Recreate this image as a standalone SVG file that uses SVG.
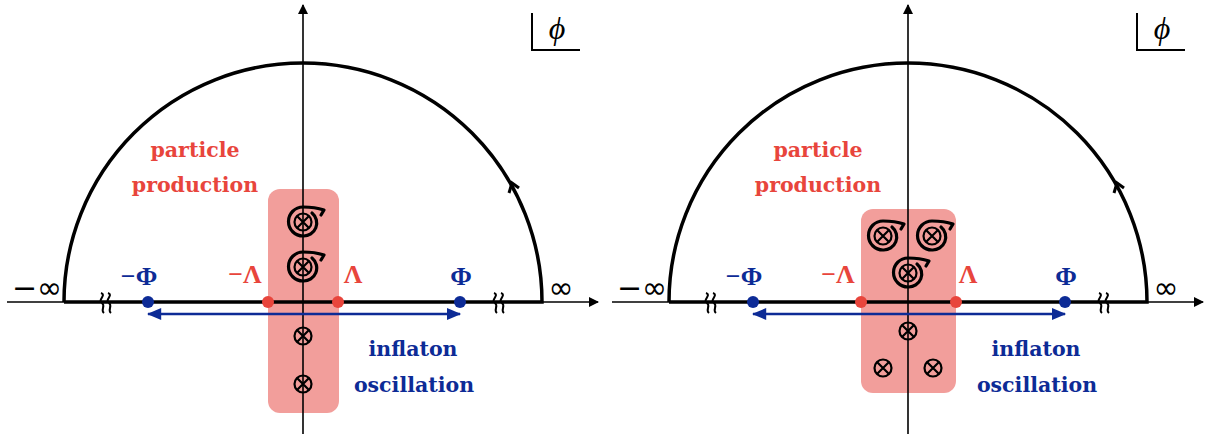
<svg xmlns="http://www.w3.org/2000/svg" width="1207" height="434" viewBox="0 0 1207 434">
<style>
.axis{stroke:#000;stroke-width:1.6;fill:none}
.contour{stroke:#000;stroke-width:3.5;fill:none}
.zone{fill:#f29e9b}
.red{fill:#e8453c}
.blue{fill:#0d2b96}
.lbl{font-family:"DejaVu Serif","Liberation Serif",serif;font-weight:bold;font-size:20.5px}
.inf{font-family:"DejaVu Sans","Liberation Sans",sans-serif;font-size:30px;fill:#000}
.greek{font-family:"Liberation Serif","DejaVu Serif",serif;font-weight:bold;font-size:26px}
.osc{stroke:#0d2b96;stroke-width:2.5;fill:none}
.brk{stroke:#000;stroke-width:2;fill:none}
.pole{stroke:#000;stroke-width:2.2;fill:none}
.spiral{stroke:#000;stroke-width:3.2;fill:none;stroke-linecap:round;stroke-linejoin:round}
.phi{font-family:"Liberation Serif","DejaVu Serif",serif;font-style:italic;font-size:32px;fill:#000}
</style>
<defs>
<marker id="ah" viewBox="0 0 10 10" refX="9" refY="5" markerWidth="10" markerHeight="10" markerUnits="userSpaceOnUse" orient="auto"><path d="M0,0 L10,5 L0,10 Z" fill="#000"/></marker>
<marker id="bh" viewBox="0 0 12 10" refX="11" refY="5" markerWidth="15" markerHeight="12" markerUnits="userSpaceOnUse" orient="auto-start-reverse"><path d="M0,0 L12,5 L0,10 Z" fill="#0d2b96"/></marker>
<g id="px">
<circle r="8.5" class="pole"/>
<path d="M-6,-6 L6,6 M-6,6 L6,-6" class="pole"/>
</g>
<g id="sp">
<use href="#px"/>
<path d="M9,-9 A13,13 0 0 1 0,14 A14.5,14.5 0 0 1 0,-15 C8,-15 15,-14 21,-12 L18,-7" class="spiral"/>
</g>
<g id="brkmark">
<path d="M-7,-10 c6,2 -4,7 1,10 c4,3 -2,7 2,10" class="brk"/>
<path d="M0,-10 c6,2 -4,7 1,10 c4,3 -2,7 2,10" class="brk"/>
</g>
</defs>

<!-- LEFT PANEL -->
<g id="left-zone"><rect x="268" y="189" width="71" height="224" rx="12" class="zone"/></g>
<g id="left-axes">
<line x1="7" y1="302" x2="598" y2="302" class="axis" marker-end="url(#ah)"/>
<line x1="303" y1="434" x2="303" y2="5" class="axis" marker-end="url(#ah)"/>
</g>
<g id="left-contour">
<path d="M64,302 L542,302 A239,239 0 0 0 64,302" class="contour"/>
<path d="M519,188 L512,183 L509,193" stroke="#000" stroke-width="3" fill="none"/>
</g>
<g id="left-breaks">
<use href="#brkmark" x="108" y="303"/>
<use href="#brkmark" x="501" y="303"/>
</g>
<g id="left-oscillation">
<line x1="148" y1="314" x2="460" y2="314" class="osc" marker-start="url(#bh)" marker-end="url(#bh)"/>
</g>
<g id="left-points">
<circle cx="148" cy="302" r="6" class="blue"/>
<circle cx="460" cy="302" r="6" class="blue"/>
<circle cx="268" cy="302" r="6" class="red"/>
<circle cx="338" cy="302" r="6" class="red"/>
</g>
<g id="left-poles">
<use href="#sp" x="303" y="222"/>
<use href="#sp" x="303" y="267"/>
<use href="#px" x="303" y="336"/>
<use href="#px" x="303" y="384"/>
</g>
<g id="left-labels">
<text x="37" y="298" class="inf" text-anchor="middle">−∞</text>
<text x="561" y="298" class="inf" text-anchor="middle">∞</text>
<text x="139" y="285" class="greek blue" text-anchor="middle">−Φ</text>
<text x="461" y="285" class="greek blue" text-anchor="middle">Φ</text>
<text x="245" y="283" class="greek red" text-anchor="middle">−Λ</text>
<text x="353" y="283" class="greek red" text-anchor="middle">Λ</text>
<text x="195" y="157" class="lbl red" text-anchor="middle">particle</text>
<text x="195" y="192" class="lbl red" text-anchor="middle">production</text>
<text x="413" y="356" class="lbl blue" text-anchor="middle">inflaton</text>
<text x="414" y="392" class="lbl blue" text-anchor="middle">oscillation</text>
</g>
<g id="left-phi">
<path d="M532,13 L532,50 L580,50" stroke="#000" stroke-width="2" fill="none"/>
<text x="557" y="39" class="phi" text-anchor="middle">ϕ</text>
</g>

<!-- RIGHT PANEL -->
<g id="right-zone"><rect x="861" y="209" width="95" height="184" rx="12" class="zone"/></g>
<g id="right-axes">
<line x1="612" y1="302" x2="1203" y2="302" class="axis" marker-end="url(#ah)"/>
<line x1="908" y1="434" x2="908" y2="5" class="axis" marker-end="url(#ah)"/>
</g>
<g id="right-contour">
<path d="M669,302 L1147,302 A239,239 0 0 0 669,302" class="contour"/>
<path d="M1124,188 L1117,183 L1114,193" stroke="#000" stroke-width="3" fill="none"/>
</g>
<g id="right-breaks">
<use href="#brkmark" x="713" y="303"/>
<use href="#brkmark" x="1106" y="303"/>
</g>
<g id="right-oscillation">
<line x1="753" y1="314" x2="1065" y2="314" class="osc" marker-start="url(#bh)" marker-end="url(#bh)"/>
</g>
<g id="right-points">
<circle cx="753" cy="302" r="6" class="blue"/>
<circle cx="1065" cy="302" r="6" class="blue"/>
<circle cx="861" cy="302" r="6" class="red"/>
<circle cx="956" cy="302" r="6" class="red"/>
</g>
<g id="right-poles">
<use href="#sp" x="883" y="236"/>
<use href="#sp" x="932" y="236"/>
<use href="#sp" x="908" y="273"/>
<use href="#px" x="908" y="331"/>
<use href="#px" x="883" y="368"/>
<use href="#px" x="933" y="368"/>
</g>
<g id="right-labels">
<text x="642" y="298" class="inf" text-anchor="middle">−∞</text>
<text x="1166" y="298" class="inf" text-anchor="middle">∞</text>
<text x="744" y="285" class="greek blue" text-anchor="middle">−Φ</text>
<text x="1066" y="285" class="greek blue" text-anchor="middle">Φ</text>
<text x="838" y="283" class="greek red" text-anchor="middle">−Λ</text>
<text x="968" y="283" class="greek red" text-anchor="middle">Λ</text>
<text x="818" y="157" class="lbl red" text-anchor="middle">particle</text>
<text x="818" y="192" class="lbl red" text-anchor="middle">production</text>
<text x="1036" y="356" class="lbl blue" text-anchor="middle">inflaton</text>
<text x="1037" y="392" class="lbl blue" text-anchor="middle">oscillation</text>
</g>
<g id="right-phi">
<path d="M1137,13 L1137,50 L1185,50" stroke="#000" stroke-width="2" fill="none"/>
<text x="1162" y="39" class="phi" text-anchor="middle">ϕ</text>
</g>
</svg>
